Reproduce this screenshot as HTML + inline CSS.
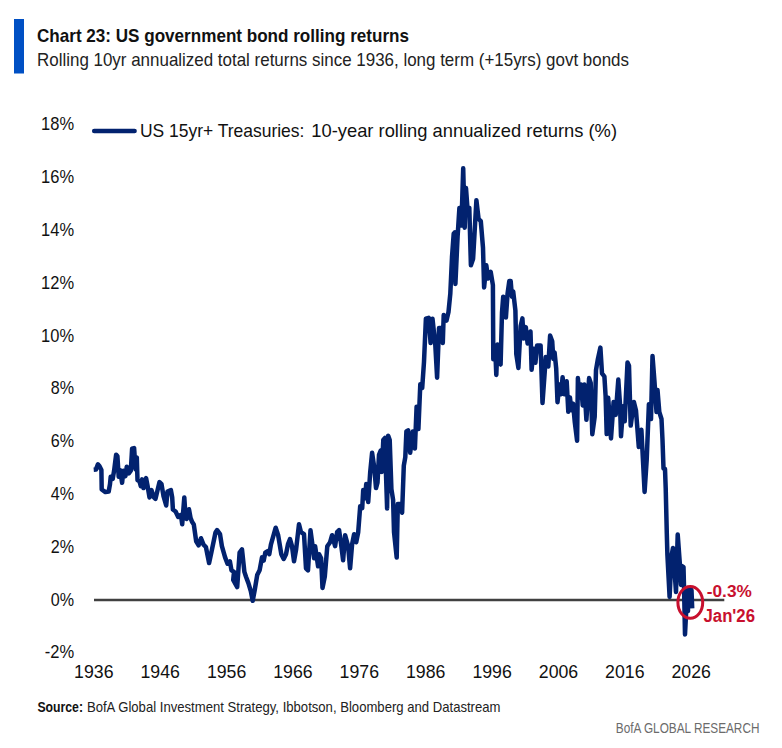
<!DOCTYPE html>
<html><head><meta charset="utf-8"><style>
html,body{margin:0;padding:0;background:#fff;width:782px;height:748px;overflow:hidden}
svg{display:block}
text{font-family:"Liberation Sans", sans-serif}
</style></head><body>
<svg width="782" height="748" viewBox="0 0 782 748">
<rect x="0" y="0" width="782" height="748" fill="#ffffff"/>
<rect x="14" y="19" width="10" height="54.5" fill="#0050c4"/>
<text x="37" y="41.6" font-size="18.4" font-weight="bold" fill="#111" textLength="372" lengthAdjust="spacingAndGlyphs">Chart 23: US government bond rolling returns</text>
<text x="37" y="66.3" font-size="17.7" fill="#222" textLength="592" lengthAdjust="spacingAndGlyphs">Rolling 10yr annualized total returns since 1936, long term (+15yrs) govt bonds</text>
<g font-size="17.7" fill="#111">
<text x="41.1" y="130.3" textLength="33" lengthAdjust="spacingAndGlyphs">18%</text><text x="41.1" y="183.1" textLength="33" lengthAdjust="spacingAndGlyphs">16%</text><text x="41.1" y="235.9" textLength="33" lengthAdjust="spacingAndGlyphs">14%</text><text x="41.1" y="288.7" textLength="33" lengthAdjust="spacingAndGlyphs">12%</text><text x="41.1" y="341.5" textLength="33" lengthAdjust="spacingAndGlyphs">10%</text><text x="50.8" y="394.3" textLength="23.3" lengthAdjust="spacingAndGlyphs">8%</text><text x="50.8" y="447.1" textLength="23.3" lengthAdjust="spacingAndGlyphs">6%</text><text x="50.8" y="499.9" textLength="23.3" lengthAdjust="spacingAndGlyphs">4%</text><text x="50.8" y="552.7" textLength="23.3" lengthAdjust="spacingAndGlyphs">2%</text><text x="50.8" y="605.5" textLength="23.3" lengthAdjust="spacingAndGlyphs">0%</text><text x="44.7" y="658.3" textLength="29.4" lengthAdjust="spacingAndGlyphs">-2%</text>
<text x="74.1" y="678" textLength="39.4" lengthAdjust="spacingAndGlyphs">1936</text><text x="140.5" y="678" textLength="39.4" lengthAdjust="spacingAndGlyphs">1946</text><text x="206.9" y="678" textLength="39.4" lengthAdjust="spacingAndGlyphs">1956</text><text x="273.2" y="678" textLength="39.4" lengthAdjust="spacingAndGlyphs">1966</text><text x="339.6" y="678" textLength="39.4" lengthAdjust="spacingAndGlyphs">1976</text><text x="406.0" y="678" textLength="39.4" lengthAdjust="spacingAndGlyphs">1986</text><text x="472.4" y="678" textLength="39.4" lengthAdjust="spacingAndGlyphs">1996</text><text x="538.8" y="678" textLength="39.4" lengthAdjust="spacingAndGlyphs">2006</text><text x="605.1" y="678" textLength="39.4" lengthAdjust="spacingAndGlyphs">2016</text><text x="671.5" y="678" textLength="39.4" lengthAdjust="spacingAndGlyphs">2026</text>
</g>
<line x1="94.2" y1="130.9" x2="134.6" y2="130.9" stroke="#02226f" stroke-width="4.5" stroke-linecap="round"/>
<text x="140" y="137.1" font-size="18.2" fill="#111" textLength="164.4" lengthAdjust="spacingAndGlyphs">US 15yr+ Treasuries:</text>
<text x="311.3" y="137.1" font-size="18.2" fill="#111" textLength="305.7" lengthAdjust="spacingAndGlyphs">10-year rolling annualized returns (%)</text>
<line x1="94" y1="600" x2="724.3" y2="600" stroke="#404040" stroke-width="2.4"/>
<path d="M93.7,469.8 L95.9,469.6 L97.9,464.4 L99.4,466 L101.4,470 L101.7,489.5 L105.4,492.1 L108.7,491.5 L110,484.1 L110.7,476.8 L112.7,478.8 L114.1,470.7 L116.1,454.7 L117.4,456 L118.7,476.8 L120.1,470.1 L122.1,482.8 L123.4,470.7 L125.4,476.1 L126.8,466.7 L128.8,473.4 L130.8,470.7 L132.1,448.7 L134.1,448 L135.5,469.4 L136.8,457.4 L137.5,480.1 L139.5,481.4 L140.8,486.1 L142.1,479.4 L143.5,488.1 L144.8,482.8 L146.1,478.1 L147.5,485.5 L149.5,497.5 L151.5,490.1 L153.5,496.8 L155.5,498.8 L159.5,482.1 L161.5,484.1 L163.5,496.1 L166.2,505.5 L167.5,491.5 L170.9,490.1 L172.2,497.5 L172.9,509.5 L175.6,511.5 L178.2,516.9 L180.9,514.9 L182.2,524.2 L184.3,497.5 L185.6,517.5 L186.6,518.9 L189,509.3 L190.6,518.1 L192.2,522.1 L193.8,524.5 L196.2,541.4 L198.6,545.4 L201,538.2 L203.5,544.6 L205.9,547 L209.1,563 L211.5,551.8 L215.5,532.5 L217.1,530.1 L220,534.1 L221.9,546.2 L225.1,557.4 L227.5,563.8 L229.9,561.4 L231.5,570.3 L234,571.9 L233.2,579.9 L237.2,587.1 L239.6,552.6 L242,549.4 L244.4,571.9 L246,576.7 L248.4,583.1 L250.8,591.1 L252.7,600.8 L254.8,589.5 L257.2,575.1 L259.6,570.3 L262,557.4 L263.7,560.6 L265.3,552.6 L267.7,551 L269.3,554.2 L270.9,544.6 L275.7,527.7 L278.1,534.9 L281.3,554.2 L283.7,559 L286,554.2 L288,544.2 L290,539.2 L292,546.2 L294,561.3 L296,550.2 L299,524.2 L301,532.2 L304,534.2 L306,568.3 L308,570.3 L310.5,530.2 L312.1,542.2 L314.1,558.3 L315.1,546.2 L318.1,566.3 L319.1,554.2 L321.1,558.3 L322.5,588 L324.8,576.5 L327.3,546.2 L330.1,542.2 L332.1,535.2 L335.1,546.2 L337.1,532.2 L339.1,530.2 L341.1,544.2 L343.1,560.3 L345.1,535.2 L348.1,546.2 L350.1,568.3 L352.1,544.2 L354.1,534.2 L356.2,542.2 L358.2,532.2 L360.2,506.2 L362.2,508.2 L363.2,490.1 L365.2,498.1 L366.2,484.1 L368.2,502.1 L370.2,472.1 L372.1,452.8 L374.3,467.8 L376,488.1 L377.5,482.7 L379,454.9 L380.7,450.6 L381.8,472 L383.3,439.9 L385,437.8 L386,474.2 L387.1,508.4 L388.2,435.7 L389.7,439.9 L391.4,489.1 L393.1,499.8 L394,531.9 L396.7,557.6 L397.8,504.1 L399.9,504.1 L402.1,512.7 L403.8,465.6 L405.3,457.1 L406.4,431.4 L408.1,430.3 L410.2,452.8 L412.8,431.4 L414.9,448.5 L416.6,406.7 L418.4,429.1 L420.3,384.2 L422.2,388 L424,361.8 L425.9,318.7 L428.7,317.8 L430.6,343 L432.5,318.7 L435.3,344.9 L437.1,377.7 L439,328.1 L440.9,328.1 L442.8,343 L443.7,315 L446.5,320.6 L448.5,312 L450.3,293.8 L452,257 L453.7,233.6 L453.2,278.5 L455,232.2 L455.4,284 L457.6,236.6 L459.4,208 L461,225.6 L462.1,203.5 L463.2,168.2 L464.7,227.8 L466,188.1 L467.6,210.2 L469.3,207.9 L470.9,265.3 L473.1,258.7 L476.4,200.2 L478.6,219 L480.8,221.2 L483,247.7 L484.1,287.4 L486.3,265.3 L488.1,278.5 L490.7,271.9 L492.9,285.2 L493.3,359.3 L495.1,345.4 L496.3,374.9 L497.5,344.5 L498.9,362.8 L500.6,364.5 L502,312.4 L503.2,296.7 L505,298.4 L505.9,317.6 L507.6,293.2 L509.3,281.1 L510.7,281.1 L511.9,296.7 L513.2,291.5 L515.4,310.6 L516.3,354.1 L518.4,368 L520.6,326.3 L522.4,318.4 L523.6,338.4 L525.8,327.1 L527.6,343.6 L530.5,331.5 L531.6,369.7 L533.7,348.8 L535.4,362.8 L537.1,345.4 L540.6,345.4 L542.5,403 L545.8,357 L548.3,366.5 L550.1,335.6 L552.2,341.2 L553.3,358.9 L554.6,352.5 L556.2,368.5 L557.5,402.2 L559.4,384.5 L561,394.2 L562.6,377.3 L564.3,394.2 L566.7,381.3 L568.3,411.8 L569.9,397.4 L571.5,410.2 L573.1,403.8 L574.7,421.4 L577.1,440.7 L577.9,378.1 L579.5,397.4 L581.1,384.5 L582.7,405.4 L584.3,384.5 L586.4,419.8 L589.1,378.1 L590.7,382.9 L592.3,434.3 L594.7,416.6 L596,370.1 L597.9,358.9 L600.4,347.6 L602,373.3 L604.4,376.5 L605.6,395.8 L606.7,434.1 L608.2,397.8 L611,438.4 L613.6,402 L615.7,414.9 L618.3,379.6 L620,404.2 L621,436.3 L623.2,406.3 L624.7,421.3 L627.5,362.5 L629,365.7 L630.7,425.6 L633.9,402 L636,410.6 L638.8,447 L641.4,429.8 L644.6,491.9 L646.7,459.8 L648.9,404.2 L651,419.1 L652.5,356 L654.5,382 L656.5,412 L657.5,390 L659.3,412 L661.5,419 L662.5,440 L663.5,468.5 L665,469 L665.7,488 L666.8,533.5 L667.4,554.9 L669.6,597 L671.5,556 L673,548 L676,592 L677.7,534.5 L680,566 L681,585 L682,566 L683.5,567 L684.1,590 L685,634.5 L686.5,605 L688,611 L687.5,590 L691.5,590 L692.2,608.4" fill="none" stroke="#02226f" stroke-width="4.5" stroke-linejoin="round" stroke-linecap="butt"/>
<ellipse cx="690.3" cy="602.4" rx="12.4" ry="15.9" fill="none" stroke="#c8102e" stroke-width="3"/>
<text x="706.8" y="597.4" font-size="17" font-weight="bold" fill="#c8102e" textLength="45" lengthAdjust="spacingAndGlyphs">-0.3%</text>
<text x="703.5" y="621.7" font-size="17.5" font-weight="bold" fill="#c8102e" textLength="51.5" lengthAdjust="spacingAndGlyphs">Jan'26</text>
<text x="37.4" y="711.7" font-size="14.3" font-weight="bold" fill="#111" textLength="45.6" lengthAdjust="spacingAndGlyphs">Source:</text>
<text x="86.9" y="711.7" font-size="14.3" fill="#222" textLength="413.6" lengthAdjust="spacingAndGlyphs">BofA Global Investment Strategy, Ibbotson, Bloomberg and Datastream</text>
<text x="615.8" y="732.9" font-size="14.3" fill="#6b6b6b" textLength="143.6" lengthAdjust="spacingAndGlyphs">BofA GLOBAL RESEARCH</text>
</svg>
</body></html>
